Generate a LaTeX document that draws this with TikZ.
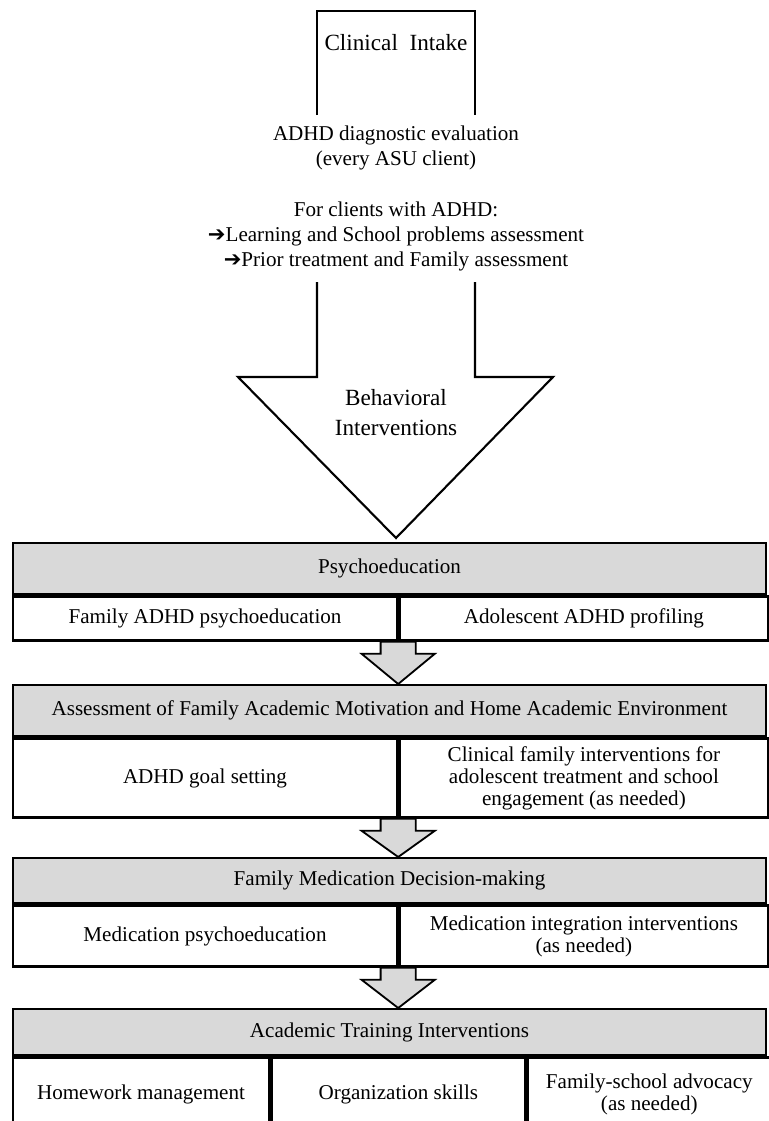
\documentclass[tikz,border=0pt]{standalone}
\usepackage{fontspec}
\setmainfont{Liberation Serif}
\newfontfamily\symfont{DejaVu Sans}
\usetikzlibrary{positioning, calc}
\definecolor{hgray}{HTML}{D9D9D9}
\tikzset{
  txt/.style={align=center, inner sep=0pt, font=\fontsize{15}{17.8}\selectfont},
  bigtxt/.style={align=center, inner sep=0pt, font=\fontsize{16.5}{21.3}\selectfont},
  head/.style={
    draw, line width=1.7pt, fill=hgray, anchor=north, inner sep=0pt,
    minimum width=18.825cm, minimum height=#1, font=\fontsize{15}{15.6}\selectfont
  },
  cell/.style={
    draw, line width=1.7pt, fill=white, anchor=north west, inner sep=0pt,
    align=center, font=\fontsize{15}{15.6}\selectfont
  },
  bigarrow/.style={line width=1.5pt, line join=miter},
  smallarrow/.style={draw, line width=1.3pt, fill=hgray, line join=miter}
}
% block arrow from the bottom of one box to the top of the next
\newcommand{\flowarrow}[2]{%
  \draw[smallarrow] let \p1=(#1), \p2=(#2) in
    (\x1-0.44cm,\y1) -- (\x1-0.44cm,\y1-0.3cm) -- (\x1-0.915cm,\y1-0.3cm)
    -- (\x1,\y2) -- (\x1+0.915cm,\y1-0.3cm) -- (\x1+0.44cm,\y1-0.3cm)
    -- (\x1+0.44cm,\y1) -- cycle;}

\begin{document}
\begin{tikzpicture}
  \useasboundingbox (0,0) rectangle (19.225,-28.025);

  % big arrow
  \draw[bigarrow] (7.925,-2.875) -- (7.925,-0.275) -- (11.875,-0.275) -- (11.875,-2.875);
  \draw[bigarrow] (7.925,-7.05) -- (7.925,-9.425) -- (5.95,-9.425) -- (9.9,-13.45)
    -- (13.825,-9.425) -- (11.875,-9.425) -- (11.875,-7.05);
  \node[bigtxt] (intake) at (9.9,-1.075) {Clinical\ \ Intake};
  \node[txt] (eval) at (9.9,-3.71) {ADHD diagnostic evaluation\\(every ASU client)};
  \node[txt] (clients) at (9.9,-5.9)
    {For clients with ADHD:\\{\symfont ➔}Learning and School problems assessment\\
     {\symfont ➔}Prior treatment and Family assessment};
  \node[bigtxt] (behav) at (9.9,-10.325) {Behavioral\\Interventions};

  % Psychoeducation
  \node[head=1.275cm] (psy) at (9.7375,-13.55) {Psychoeducation};
  \node[cell,minimum width=9.6cm,minimum height=1.1cm] (famedu) at (psy.south west)
    {Family ADHD psychoeducation};
  \node[cell,minimum width=9.225cm,minimum height=1.1cm] (profil) at (famedu.north east)
    {Adolescent ADHD profiling};

  % Assessment
  \node[head=1.275cm] (asm) at (9.7375,-17.1)
    {Assessment of Family Academic Motivation and Home Academic Environment};
  \node[cell,minimum width=9.6cm,minimum height=1.975cm] (goal) at (asm.south west)
    {ADHD goal setting};
  \node[cell,minimum width=9.225cm,minimum height=1.975cm] (clin) at (goal.north east)
    {Clinical family interventions for\\adolescent treatment and school\\engagement (as needed)};

  % Medication
  \node[head=1.125cm] (med) at (9.7375,-21.425) {Family Medication Decision-making};
  \node[cell,minimum width=9.6cm,minimum height=1.525cm] (mededu) at (med.south west)
    {Medication psychoeducation};
  \node[cell,minimum width=9.225cm,minimum height=1.525cm] (medint) at (mededu.north east)
    {Medication integration interventions\\(as needed)};

  % Academic training
  \node[head=1.15cm] (acad) at (9.7375,-25.2) {Academic Training Interventions};
  \node[cell,minimum width=6.4cm,minimum height=1.85cm] (homew) at (acad.south west)
    {Homework management};
  \node[cell,minimum width=6.35cm,minimum height=1.85cm] (orgsk) at (homew.north east)
    {Organization skills};
  \node[cell,minimum width=6.075cm,minimum height=1.85cm] (advoc) at (orgsk.north east)
    {Family-school advocacy\\(as needed)};

  \flowarrow{famedu.south east}{asm.north}
  \flowarrow{goal.south east}{med.north}
  \flowarrow{mededu.south east}{acad.north}
\end{tikzpicture}
\end{document}
